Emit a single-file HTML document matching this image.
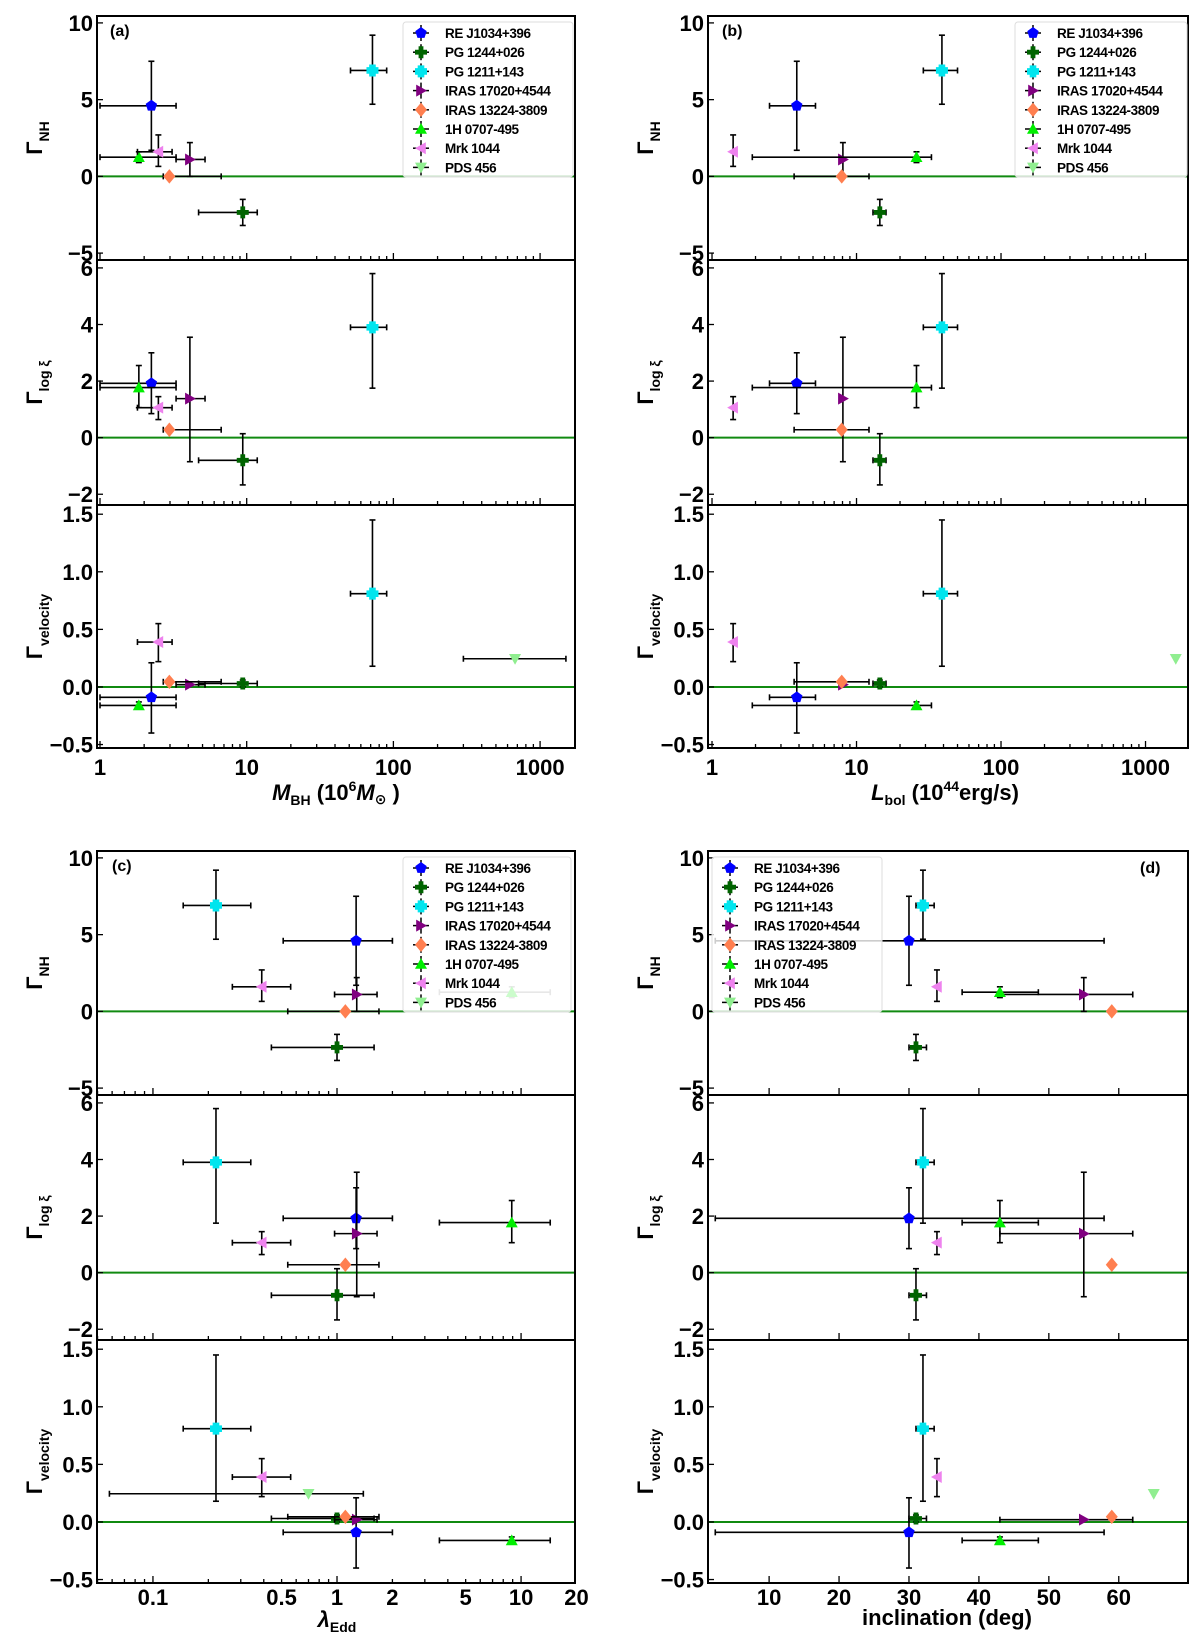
<!DOCTYPE html>
<html><head><meta charset="utf-8"><style>
html,body{margin:0;padding:0;background:#fff;}
svg{display:block;font-family:"Liberation Sans","DejaVu Sans",sans-serif;}
</style></head>
<body>
<svg id="fig" width="1200" height="1642" viewBox="0 0 1200 1642" xmlns="http://www.w3.org/2000/svg"></svg>
<script>
const objects = ['RE J1034+396','PG 1244+026','PG 1211+143','IRAS 17020+4544','IRAS 13224-3809','1H 0707-495','Mrk 1044','PDS 456'];
const colors = ['#0000ff','#006400','#00e5ee','#800080','#ff7f50','#00ee00','#ee82ee','#90ee90'];
const shapes = ['pent','plus','plusf','tri-r','diam','tri-u','tri-l','tri-d'];
const mbh   = [2.24, 9.4, 72, 4.1, 2.97, 1.84, 2.5, 675];
const mbhLo = [1.0, 4.7, 51, 3.3, 2.7, 1.0, 1.8, 300];
const mbhHi = [3.3, 11.8, 90, 5.2, 6.7, 3.3, 3.1, 1500];
const lbol   = [3.86, 14.5, 39, 8.05, 7.9, 26, 1.4, 1620];
const lbolLo = [2.5, 13, 29, 8.05, 3.7, 1.9, 1.4, 1620];
const lbolHi = [5.2, 16, 50, 8.05, 12.2, 33, 1.4, 1620];
const lam   = [1.27, 1.0, 0.22, 1.28, 1.11, 8.9, 0.39, 0.70];
const lamLo = [0.51, 0.44, 0.146, 0.97, 0.54, 3.6, 0.27, 0.058];
const lamHi = [2.0, 1.59, 0.34, 1.65, 1.69, 14.4, 0.56, 1.39];
const inc   = [30, 31, 32, 55, 59, 43, 34, 65];
const incLo = [2.3, 30, 31, 43, 59, 37.6, 34, 65];
const incHi = [57.9, 32.5, 33.6, 62, 59, 48.5, 34, 65];
const gNH   = [4.6, -2.35, 6.9, 1.1, 0, 1.25, 1.6, null];
const gNHLo = [1.7, -3.2, 4.7, 0, 0, 0.9, 0.65, null];
const gNHHi = [7.5, -1.5, 9.2, 2.2, 0, 1.6, 2.7, null];
const gXi   = [1.92, -0.8, 3.9, 1.38, 0.28, 1.77, 1.06, null];
const gXiLo = [0.85, -1.67, 1.75, -0.85, 0.28, 1.06, 0.64, null];
const gXiHi = [3.0, 0.14, 5.8, 3.55, 0.28, 2.55, 1.45, null];
const gV    = [-0.09, 0.03, 0.81, 0.02, 0.045, -0.16, 0.39, 0.245];
const gVLo  = [-0.4, 0.0, 0.18, 0.02, 0.045, -0.19, 0.22, 0.245];
const gVHi  = [0.21, 0.06, 1.45, 0.02, 0.045, -0.13, 0.55, 0.245];
const nhTicks = [-5, 0, 5, 10];
const xiTicks = [-2, 0, 2, 4, 6];
const vTicks = [-0.5, 0.0, 0.5, 1.0, 1.5];
const logTicksAB = [1, 10, 100, 1000];
const lamTicks = [0.1, 0.5, 1, 2, 5, 10, 20];
const incTicks = [10, 20, 30, 40, 50, 60];

const NS='http://www.w3.org/2000/svg';
const svg=document.getElementById('fig');
function el(tag,attrs,parent){const e=document.createElementNS(NS,tag);for(const k in attrs)e.setAttribute(k,attrs[k]);(parent||svg).appendChild(e);return e;}

const rowsY=[[16,260],[260,505],[505,748]];
const yDom=[[-5.45,10.45],[-2.38,6.28],[-0.53,1.58]];
const yVals=[[gNH,gNHLo,gNHHi],[gXi,gXiLo,gXiHi],[gV,gVLo,gVHi]];
const yTicks=[nhTicks,xiTicks,vTicks];
const yFmt=[v=>String(v).replace('-','\u2212'),v=>String(v).replace('-','\u2212'),v=>v.toFixed(1).replace('-','\u2212')];
const yLab=[['N','H'],['log ','\u03be'],['velocity','']];

const panels=[
 {id:'a',x0:97,x1:575,off:0,type:'log',dom:[0.954,Math.pow(10,3.238)],xv:[mbh,mbhLo,mbhHi],ticks:logTicksAB,label:[110,36],legend:[403,22,170]},
 {id:'b',x0:708,x1:1188,off:0,type:'log',dom:[0.938,Math.pow(10,3.294)],xv:[lbol,lbolLo,lbolHi],ticks:logTicksAB,label:[722,36],legend:[1015,22,172]},
 {id:'c',x0:97,x1:575,off:835,type:'log',dom:[Math.pow(10,-1.304),Math.pow(10,1.293)],xv:[lam,lamLo,lamHi],ticks:lamTicks,label:[112,871],legend:[403,857,168]},
 {id:'d',x0:708,x1:1188,off:835,type:'lin',dom:[1.26,69.9],xv:[inc,incLo,incHi],ticks:incTicks,label:[1140,873],legend:[712,857,170]}
];

function marker(g,cx,cy,shape,color,s){
  let d;
  if(shape==='pent'){d='';for(let i=0;i<5;i++){const a=-Math.PI/2+i*2*Math.PI/5;d+=(i?'L':'M')+(cx+s*Math.cos(a))+','+(cy+s*Math.sin(a));}d+='Z';}
  else if(shape==='diam'){d=`M${cx},${cy-s*1.2}L${cx+s},${cy}L${cx},${cy+s*1.2}L${cx-s},${cy}Z`;}
  else if(shape==='plus'){const w=s*0.4;d=`M${cx-w},${cy-s}h${2*w}v${s-w}h${s-w}v${2*w}h${-(s-w)}v${s-w}h${-2*w}v${-(s-w)}h${-(s-w)}v${-2*w}h${s-w}Z`;}
  else if(shape==='plusf'){const w=s*0.55;d=`M${cx-w},${cy-s}h${2*w}v${s-w}h${s-w}v${2*w}h${-(s-w)}v${s-w}h${-2*w}v${-(s-w)}h${-(s-w)}v${-2*w}h${s-w}Z`;}
  else if(shape==='tri-u'){d=`M${cx},${cy-s}L${cx+s},${cy+s*0.8}L${cx-s},${cy+s*0.8}Z`;}
  else if(shape==='tri-d'){d=`M${cx},${cy+s}L${cx+s},${cy-s*0.8}L${cx-s},${cy-s*0.8}Z`;}
  else if(shape==='tri-r'){d=`M${cx+s},${cy}L${cx-s*0.8},${cy-s}L${cx-s*0.8},${cy+s}Z`;}
  else {d=`M${cx-s},${cy}L${cx+s*0.8},${cy-s}L${cx+s*0.8},${cy+s}Z`;}
  return el('path',{d:d,fill:color},g);
}

panels.forEach(P=>{
  const pg=el('g',{});
  
  
  const xs=v=>{
    if(P.type==='log'){const a=Math.log10(P.dom[0]),b=Math.log10(P.dom[1]);return P.x0+(Math.log10(v)-a)/(b-a)*(P.x1-P.x0);}
    return P.x0+(v-P.dom[0])/(P.dom[1]-P.dom[0])*(P.x1-P.x0);
  };
  for(let r=0;r<3;r++){
    const yt=rowsY[r][0]+P.off, yb=rowsY[r][1]+P.off;
    const ys=v=>yb-(v-yDom[r][0])/(yDom[r][1]-yDom[r][0])*(yb-yt);
    const sg=el('g',{},pg);
    
    
    const zl=el('line',{x1:P.x0,x2:P.x1,y1:ys(0),y2:ys(0),stroke:'#108a10','stroke-width':2},sg);
    
    
    if(P.type==='log'){
      const a=Math.floor(Math.log10(P.dom[0])),b=Math.ceil(Math.log10(P.dom[1]));
      for(let e=a;e<=b;e++)for(let m=1;m<10;m++){const v=m*Math.pow(10,e);if(v<P.dom[0]||v>P.dom[1])continue;const x=xs(v);el('line',{x1:x,x2:x,y1:yb,y2:yb-(m===1?7:4),stroke:'#000','stroke-width':1.3},sg);}
    } else {
      P.ticks.forEach(v=>{const x=xs(v);el('line',{x1:x,x2:x,y1:yb,y2:yb-7,stroke:'#000','stroke-width':1.3},sg);});
    }
    yTicks[r].forEach(v=>{
      const y=ys(v);
      el('line',{x1:P.x0,x2:P.x0+6,y1:y,y2:y,stroke:'#000','stroke-width':1.3},sg);
      const t=el('text',{x:P.x0-4,y:y+8,'text-anchor':'end','font-size':22,'font-weight':'bold'},sg);
      t.textContent=yFmt[r](v);
      
      
    });
    const lx=P.x0-55, ly=(yt+yb)/2;
    const yl=el('text',{x:0,y:0,transform:`translate(${lx},${ly}) rotate(-90)`,'text-anchor':'middle','font-size':22,'font-weight':'bold'},sg);
    
    
    const t1=el('tspan',{},yl);t1.textContent='\u0393';
    const t2=el('tspan',{'font-size':14,dy:7},yl);t2.textContent=yLab[r][0];
    if(yLab[r][1]){const t3=el('tspan',{'font-size':14},yl);t3.textContent=yLab[r][1];}
    const [yv,ylo,yhi]=yVals[r];const [xv,xlo,xhi]=P.xv;
    for(let i=0;i<objects.length;i++){
      if(yv[i]===null)continue;
      const g=el('g',{},sg);
      
      
      const cx=xs(xv[i]),cy=ys(yv[i]);
      const xa=xs(xlo[i]),xb=xs(xhi[i]),ya=ys(ylo[i]),yb2=ys(yhi[i]);
      const ec=(P.id==='c'&&r===0&&i===5)?'#888':'#000';
      if(xb-xa>1){el('line',{x1:xa,x2:xb,y1:cy,y2:cy,stroke:ec,'stroke-width':1.6},g);
        el('line',{x1:xa,x2:xa,y1:cy-3,y2:cy+3,stroke:ec,'stroke-width':1.6},g);
        el('line',{x1:xb,x2:xb,y1:cy-3,y2:cy+3,stroke:ec,'stroke-width':1.6},g);}
      if(ya-yb2>1){el('line',{x1:cx,x2:cx,y1:ya,y2:yb2,stroke:ec,'stroke-width':1.6},g);
        el('line',{x1:cx-3,x2:cx+3,y1:ya,y2:ya,stroke:ec,'stroke-width':1.6},g);
        el('line',{x1:cx-3,x2:cx+3,y1:yb2,y2:yb2,stroke:ec,'stroke-width':1.6},g);}
      marker(g,cx,cy,shapes[i],colors[i],6);
    }
    el('rect',{x:P.x0,y:yt,width:P.x1-P.x0,height:yb-yt,fill:'none',stroke:'#000','stroke-width':2},sg);
  }
  const yb=rowsY[2][1]+P.off;
  P.ticks.forEach(v=>{
    const t=el('text',{x:xs(v),y:yb+(P.off?22:27),'text-anchor':'middle','font-size':22,'font-weight':'bold'},pg);
    t.textContent=String(v);
    
    
  });
  const pl=el('text',{x:P.label[0],y:P.label[1],'font-size':16,'font-weight':'bold'},pg);
  pl.textContent='('+P.id+')';
  
  
  const [lx,ly,lw]=P.legend;
  const lg=el('g',{},pg);
  
  
  el('rect',{x:lx,y:ly,width:lw,height:155,rx:3,fill:'rgba(255,255,255,0.8)',stroke:'#ddd','stroke-width':1},lg);
  objects.forEach((o,i)=>{
    const e=el('g',{},lg);
    
    
    const cy=ly+11+i*19.2, mx=lx+18;
    el('line',{x1:mx,x2:mx,y1:cy-8,y2:cy+8,stroke:'#000','stroke-width':1.5},e);
    el('line',{x1:mx-8,x2:mx+8,y1:cy,y2:cy,stroke:'#000','stroke-width':1.5},e);
    marker(e,mx,cy,shapes[i],colors[i],6);
    const t=el('text',{x:lx+42,y:cy+5,'font-size':13.5,'font-weight':'bold','letter-spacing':'-0.4'},e);
    t.textContent=o;
  });
});
function xtitle(x,y,parts,name){
  const t=el('text',{x:x,y:y,'text-anchor':'middle','font-size':22,'font-weight':'bold'});
  
  
  parts.forEach(p=>{const s=el('tspan',p[1]||{},t);s.textContent=p[0];});
}
xtitle(336,800,[['M',{'font-style':'italic'}],['BH',{'font-size':14,dy:5}],[' (10',{dy:-5}],['6',{'font-size':14,dy:-9}],['M',{'font-style':'italic',dy:9}],['\u2299',{'font-size':14,dy:4}],[' )',{dy:-4}]],'x-axis-title-mbh');
xtitle(945,800,[['L',{'font-style':'italic'}],['bol',{'font-size':14,dy:5}],[' (10',{dy:-5}],['44',{'font-size':14,dy:-9}],['erg/s)',{dy:9}]],'x-axis-title-lbol');
xtitle(337,1627,[['\u03bb',{'font-style':'italic'}],['Edd',{'font-size':14,dy:5}]],'x-axis-title-lambda');
xtitle(947,1625,[['inclination (deg)',{}]],'x-axis-title-inclination');
</script>
</body></html>
